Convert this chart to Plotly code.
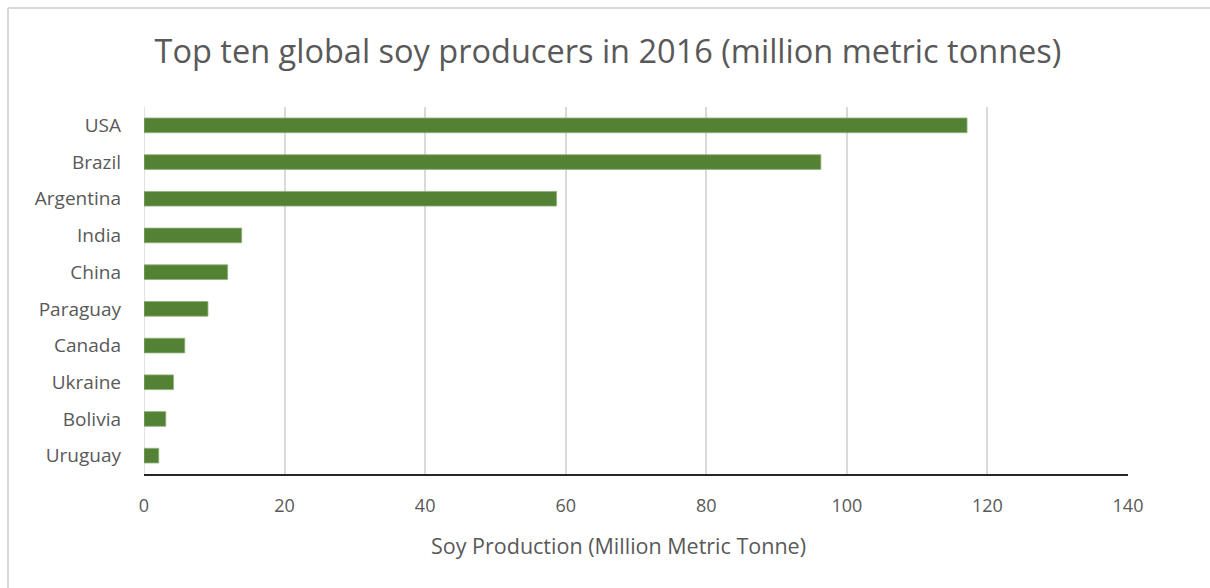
import plotly.graph_objects as go

countries = ["USA", "Brazil", "Argentina", "India", "China", "Paraguay",
             "Canada", "Ukraine", "Bolivia", "Uruguay"]
production = [117.1, 96.3, 58.7, 13.9, 11.9, 9.1, 5.8, 4.2, 3.1, 2.1]
x_ticks = [0, 20, 40, 60, 80, 100, 120, 140]

TEXT = "#595959"
FONT = "Open Sans"

W, H = 1210, 588
L, R, T, B = 144, 82, 107, 114
pw, ph = W - L - R, H - T - B

fig = go.Figure(go.Bar(
    x=production, y=countries, orientation="h",
    marker=dict(color="#548235", line=dict(color="#8fb07a", width=0.8)),
    width=0.4,
))

def px_x(v):
    return (v - L) / pw

def px_y(v):
    return (H - B - v) / ph

fig.update_layout(
    width=W, height=H,
    margin=dict(l=L, r=R, t=T, b=B),
    paper_bgcolor="white", plot_bgcolor="white",
    showlegend=False,
    title=dict(text="Top ten global soy producers in 2016 (million metric tonnes)",
               x=608 / W, xref="container", xanchor="center",
               y=1 - 52 / H, yref="container", yanchor="middle",
               font=dict(family=FONT, size=32.5, color=TEXT)),
    xaxis=dict(range=[0, 140], tickvals=x_ticks, ticktext=[str(v) for v in x_ticks],
               showgrid=True, gridcolor="#d9d9d9", gridwidth=1.5,
               zeroline=False, showline=True, linecolor="#262626", linewidth=1.5,
               ticks="", ticklabelstandoff=15,
               tickfont=dict(family=FONT, size=18, color=TEXT)),
    yaxis=dict(categoryorder="array", categoryarray=countries, autorange="reversed",
               showgrid=False, zeroline=False, showline=False, ticks="",
               ticklabelstandoff=22,
               tickfont=dict(family=FONT, size=19, color=TEXT)),
    font=dict(family=FONT, color=TEXT),
)

# x-axis title positioned as in the reference
fig.add_annotation(text="Soy Production (Million Metric Tonne)",
                   xref="paper", yref="paper", x=px_x(618), y=px_y(545),
                   xanchor="center", yanchor="middle", showarrow=False,
                   font=dict(family=FONT, size=21.5, color=TEXT))

# left gridline at 0 (light)
fig.add_shape(type="line", xref="x", yref="paper", x0=0, x1=0, y0=0, y1=1,
              line=dict(color="#d9d9d9", width=1.5), layer="below")

# chart-area border (top and left visible)
bx, by = px_x(8), px_y(8)
fig.add_shape(type="line", xref="paper", yref="paper", x0=bx, x1=bx, y0=by, y1=px_y(H + 20),
              line=dict(color="#d9d9d9", width=2))
fig.add_shape(type="line", xref="paper", yref="paper", x0=bx, x1=px_x(W + 20), y0=by, y1=by,
              line=dict(color="#d9d9d9", width=2))

fig.write_html("out.html")
